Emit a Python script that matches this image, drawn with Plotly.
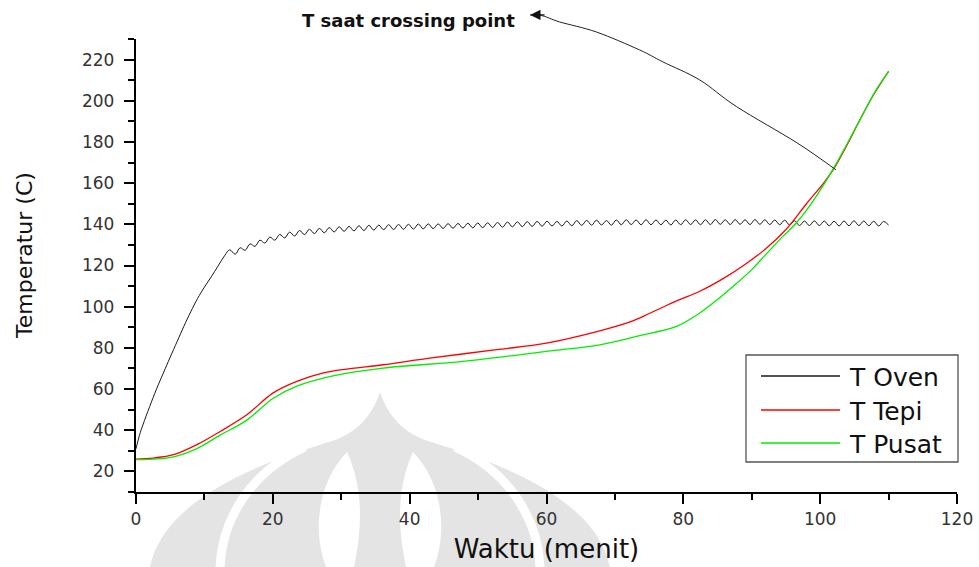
import numpy as np
import plotly.graph_objects as go

# ---------------- data ----------------
waktu_oven_naik = [0, 0.5, 1, 2, 3, 4, 5, 6, 7, 8, 9, 10, 11, 12, 13, 13.7]
t_oven_naik = [31, 37.5, 42.5, 51.5, 60, 67.8, 75.5, 83, 90.5, 97.5, 104, 109.5, 114.5, 119.8, 125, 127.6]

waktu_oven_osc = list(np.linspace(14.5, 110, 133))
t_oven_osc = [
    125.5, 128.6, 127.4, 130.5, 129.3, 132.3, 130.9, 133.8, 132.3, 135.1,
    133.4, 136.2, 134.3, 137.0, 135.0, 137.6, 135.5, 138.0, 135.9, 138.4,
    136.3, 138.8, 136.6, 139.0, 136.8, 139.3, 137.0, 139.5, 137.2, 139.6,
    137.4, 139.8, 137.5, 139.9, 137.6, 140.0, 137.7, 140.1, 137.8, 140.2,
    137.9, 140.2, 138.0, 140.3, 138.1, 140.4, 138.2, 140.5, 138.3, 140.6,
    138.4, 140.7, 138.5, 140.9, 138.6, 141.1, 138.8, 141.2, 138.9, 141.3,
    139.0, 141.4, 139.1, 141.5, 139.2, 141.4, 139.2, 141.6, 139.3, 141.8,
    139.5, 141.9, 139.6, 142.0, 139.7, 141.8, 139.6, 142.1, 139.8, 142.2,
    139.9, 142.1, 139.8, 142.2, 139.8, 142.1, 139.8, 142.0, 139.7, 142.1,
    139.8, 142.2, 139.9, 142.1, 139.8, 142.2, 139.9, 142.3, 140.0, 142.2,
    139.9, 142.3, 140.0, 142.2, 139.9, 142.3, 140.0, 142.2, 139.9, 142.1,
    139.8, 142.0, 139.7, 141.7, 139.4, 141.6, 139.4, 141.7, 139.4, 141.6,
    139.3, 141.5, 139.2, 141.6, 139.3, 141.7, 139.4, 141.6, 139.3, 141.5,
    139.2, 141.4, 139.6,
]
waktu_oven = waktu_oven_naik + waktu_oven_osc
t_oven = t_oven_naik + t_oven_osc

waktu_tepi = [0, 2.5, 5.5, 8.9, 12.3, 16.2, 20, 23.5, 27.4, 30.8, 36.1, 42.9, 52.7, 60,
              67.5, 72.2, 75.1, 79, 82.4, 86, 89, 92, 95, 98, 100.5, 102, 104, 106, 108, 110]
t_tepi = [26.0, 26.5, 28.1, 33.0, 39.4, 47.5, 58.0, 63.7, 67.8, 69.7, 71.8, 75.0, 79.1, 82.3,
          88.0, 92.6, 96.8, 102.8, 107.5, 114.0, 120.5, 128.0, 137.5, 150.0, 160.0, 167.0,
          179.0, 192.0, 204.0, 214.3]

waktu_pusat = [0, 2.5, 5.5, 8.9, 12.3, 16.2, 20, 23.5, 28.8, 36.1, 47.8, 60, 67.8, 73.6, 79,
               82.4, 85, 87.3, 90, 92.1, 94.5, 96.6, 99.4, 102.1, 105.3, 108.2, 110]
t_pusat = [25.7, 26.0, 27.1, 31.1, 37.6, 44.9, 55.4, 61.4, 66.4, 70.2, 73.4, 78.3, 81.5, 85.9, 90.4,
           96.9, 103.5, 109.9, 118.0, 125.5, 134.0, 141.0, 153.5, 168.0, 187.5, 205.4, 214.2]

series_names = ["T Oven", "T Tepi", "T Pusat"]
series_colors = ["#1a1a1a", "#ff0000", "#00ee00"]

# annotation curve (data units), from crossing point to the label
panah_x = [102.3, 96.6, 87.8, 82.4, 77.0, 73.6, 67.3, 61.9, 59.5, 57.6]
panah_y = [166.5, 179.6, 197.1, 210.1, 218.9, 224.7, 233.4, 238.3, 241.2, 241.7]

x_ticks = [0, 20, 40, 60, 80, 100, 120]
y_ticks = [20, 40, 60, 80, 100, 120, 140, 160, 180, 200, 220]

# ---------------- layout geometry ----------------
W, H = 979, 567
ML, MR, MT, MB = 136, 22, 39, 75
PW, PH = W - ML - MR, H - MT - MB
XR = [0, 120]
YR = [10, 230]


def d2p(x, y):
    return ((x - XR[0]) / (XR[1] - XR[0]), (y - YR[0]) / (YR[1] - YR[0]))


def px2p(px, py):
    return ((px - ML) / PW, (H - MB - py) / PH)


def path_px(cmds):
    out = []
    for c, pts in cmds:
        s = c
        for (a, b) in pts:
            u, v = px2p(a, b)
            s += f" {u:.5f},{v:.5f}"
        out.append(s)
    return " ".join(out)


def smooth_path(pts):
    # Catmull-Rom -> cubic bezier, pts in paper coords
    s = f"M {pts[0][0]:.5f},{pts[0][1]:.5f}"
    n = len(pts)
    for i in range(n - 1):
        p0 = pts[i - 1] if i > 0 else pts[i]
        p1 = pts[i]
        p2 = pts[i + 1]
        p3 = pts[i + 2] if i + 2 < n else pts[i + 1]
        c1 = (p1[0] + (p2[0] - p0[0]) / 6, p1[1] + (p2[1] - p0[1]) / 6)
        c2 = (p2[0] - (p3[0] - p1[0]) / 6, p2[1] - (p3[1] - p1[1]) / 6)
        s += f" C {c1[0]:.5f},{c1[1]:.5f} {c2[0]:.5f},{c2[1]:.5f} {p2[0]:.5f},{p2[1]:.5f}"
    return s


fig = go.Figure()
FONT = "DejaVu Sans"

fig.add_trace(go.Scatter(x=waktu_oven, y=t_oven, mode="lines", name=series_names[0],
                         line=dict(color=series_colors[0], width=1, shape="spline", smoothing=1.1)))
fig.add_trace(go.Scatter(x=waktu_tepi, y=t_tepi, mode="lines", name=series_names[1],
                         line=dict(color=series_colors[1], width=1.3, shape="spline", smoothing=1)))
fig.add_trace(go.Scatter(x=waktu_pusat, y=t_pusat, mode="lines", name=series_names[2],
                         line=dict(color=series_colors[2], width=1.3, shape="spline", smoothing=1)))

shapes = []
# watermark (light grey logo)
grey = "#e4e4e4"
shapes.append(dict(type="path", xref="paper", yref="paper", layer="below", line=dict(width=0),
                   fillcolor=grey,
                   path=path_px([("M", [(150, 567)]),
                                 ("C", [(165, 495), (270, 460), (335, 440)]),
                                 ("C", [(362, 430), (374, 410), (380, 392)]),
                                 ("C", [(386, 410), (398, 430), (425, 440)]),
                                 ("C", [(490, 460), (595, 495), (610, 567)]),
                                 ("Z", [])])))
for pts in ([(305, 447), (250, 472), (222, 520), (220, 567)],
            [(455, 447), (510, 472), (538, 520), (540, 567)]):
    shapes.append(dict(type="path", xref="paper", yref="paper", layer="below",
                       line=dict(color="white", width=9),
                       path=path_px([("M", [pts[0]]), ("C", pts[1:])])))
for sgn in (-1, 1):
    cx = 380

    def mx(x, sgn=sgn):
        return cx + sgn * (x - cx)
    shapes.append(dict(type="path", xref="paper", yref="paper", layer="below", line=dict(width=0),
                       fillcolor="white",
                       path=path_px([("M", [(mx(347), 452)]),
                                     ("C", [(mx(318), 482), (mx(312), 530), (mx(326), 567)]),
                                     ("L", [(mx(354), 567)]),
                                     ("C", [(mx(362), 530), (mx(364), 488), (mx(347), 452)]),
                                     ("Z", [])])))

# annotation curve
curve_pts = [d2p(a, b) for a, b in zip(panah_x, panah_y)]
shapes.append(dict(type="path", xref="paper", yref="paper", path=smooth_path(curve_pts),
                   line=dict(color="#222222", width=1)))

# manual legend (box, line samples)
shapes.append(dict(type="rect", xref="paper", yref="paper",
                   x0=px2p(746, 355)[0], y0=px2p(746, 355)[1],
                   x1=px2p(958, 462)[0], y1=px2p(958, 462)[1],
                   line=dict(color="#555", width=1.3), fillcolor="white", layer="above"))
legend_rows = [376, 410, 443]
annotations = []
for name, col, ry in zip(series_names, series_colors, legend_rows):
    a = px2p(761, ry)
    b = px2p(840, ry)
    shapes.append(dict(type="line", xref="paper", yref="paper", x0=a[0], y0=a[1], x1=b[0], y1=b[1],
                       line=dict(color=col, width=1.3), layer="above"))
    t = px2p(847, ry + 1)
    annotations.append(dict(x=t[0], y=t[1], xref="paper", yref="paper", text=name, showarrow=False,
                            xanchor="left", yanchor="middle",
                            font=dict(family=FONT, size=25, color="#111")))

tip = d2p(panah_x[-1], panah_y[-1])
yt = px2p(24, 256)
annotations += [
    dict(x=tip[0], y=tip[1], xref="paper", yref="paper", text="", showarrow=True,
         ax=16, ay=0, arrowhead=2, arrowsize=1.6, arrowwidth=1.3, arrowcolor="#111"),
    dict(x=px2p(408, 20)[0], y=px2p(408, 20)[1], xref="paper", yref="paper",
         text="<b>T saat crossing point</b>", showarrow=False,
         font=dict(family=FONT, size=18, color="#111"), xanchor="center", yanchor="middle"),
    dict(x=yt[0], y=yt[1], xref="paper", yref="paper", text="Temperatur (C)", textangle=-90,
         showarrow=False, xanchor="center", yanchor="middle",
         font=dict(family=FONT, size=22, color="#111")),
]

fig.update_layout(
    width=W, height=H,
    margin=dict(l=ML, r=MR, t=MT, b=MB, autoexpand=False),
    paper_bgcolor="white", plot_bgcolor="rgba(0,0,0,0)",
    shapes=shapes, annotations=annotations,
    showlegend=False,
)

axis_common = dict(showline=True, linecolor="black", linewidth=2.4, showgrid=False, zeroline=False,
                   ticks="outside", ticklen=10, tickwidth=2, tickcolor="black",
                   tickfont=dict(family=FONT, size=17, color="#333"), mirror=False,
                   automargin=False)

fig.update_xaxes(range=XR, tickvals=x_ticks, ticktext=[str(v) for v in x_ticks],
                 minor=dict(ticks="outside", ticklen=6, tickwidth=2, tickcolor="black", dtick=10, tick0=0),
                 title=dict(text="Waktu (menit)", font=dict(family=FONT, size=26, color="#111"), standoff=12),
                 ticklabelstandoff=0, **axis_common)
fig.update_yaxes(range=YR, tickvals=y_ticks, ticktext=[str(v) for v in y_ticks],
                 minor=dict(ticks="outside", ticklen=6, tickwidth=2, tickcolor="black", dtick=10, tick0=0),
                 ticklabelstandoff=6, **axis_common)

fig.write_html("out.html")
